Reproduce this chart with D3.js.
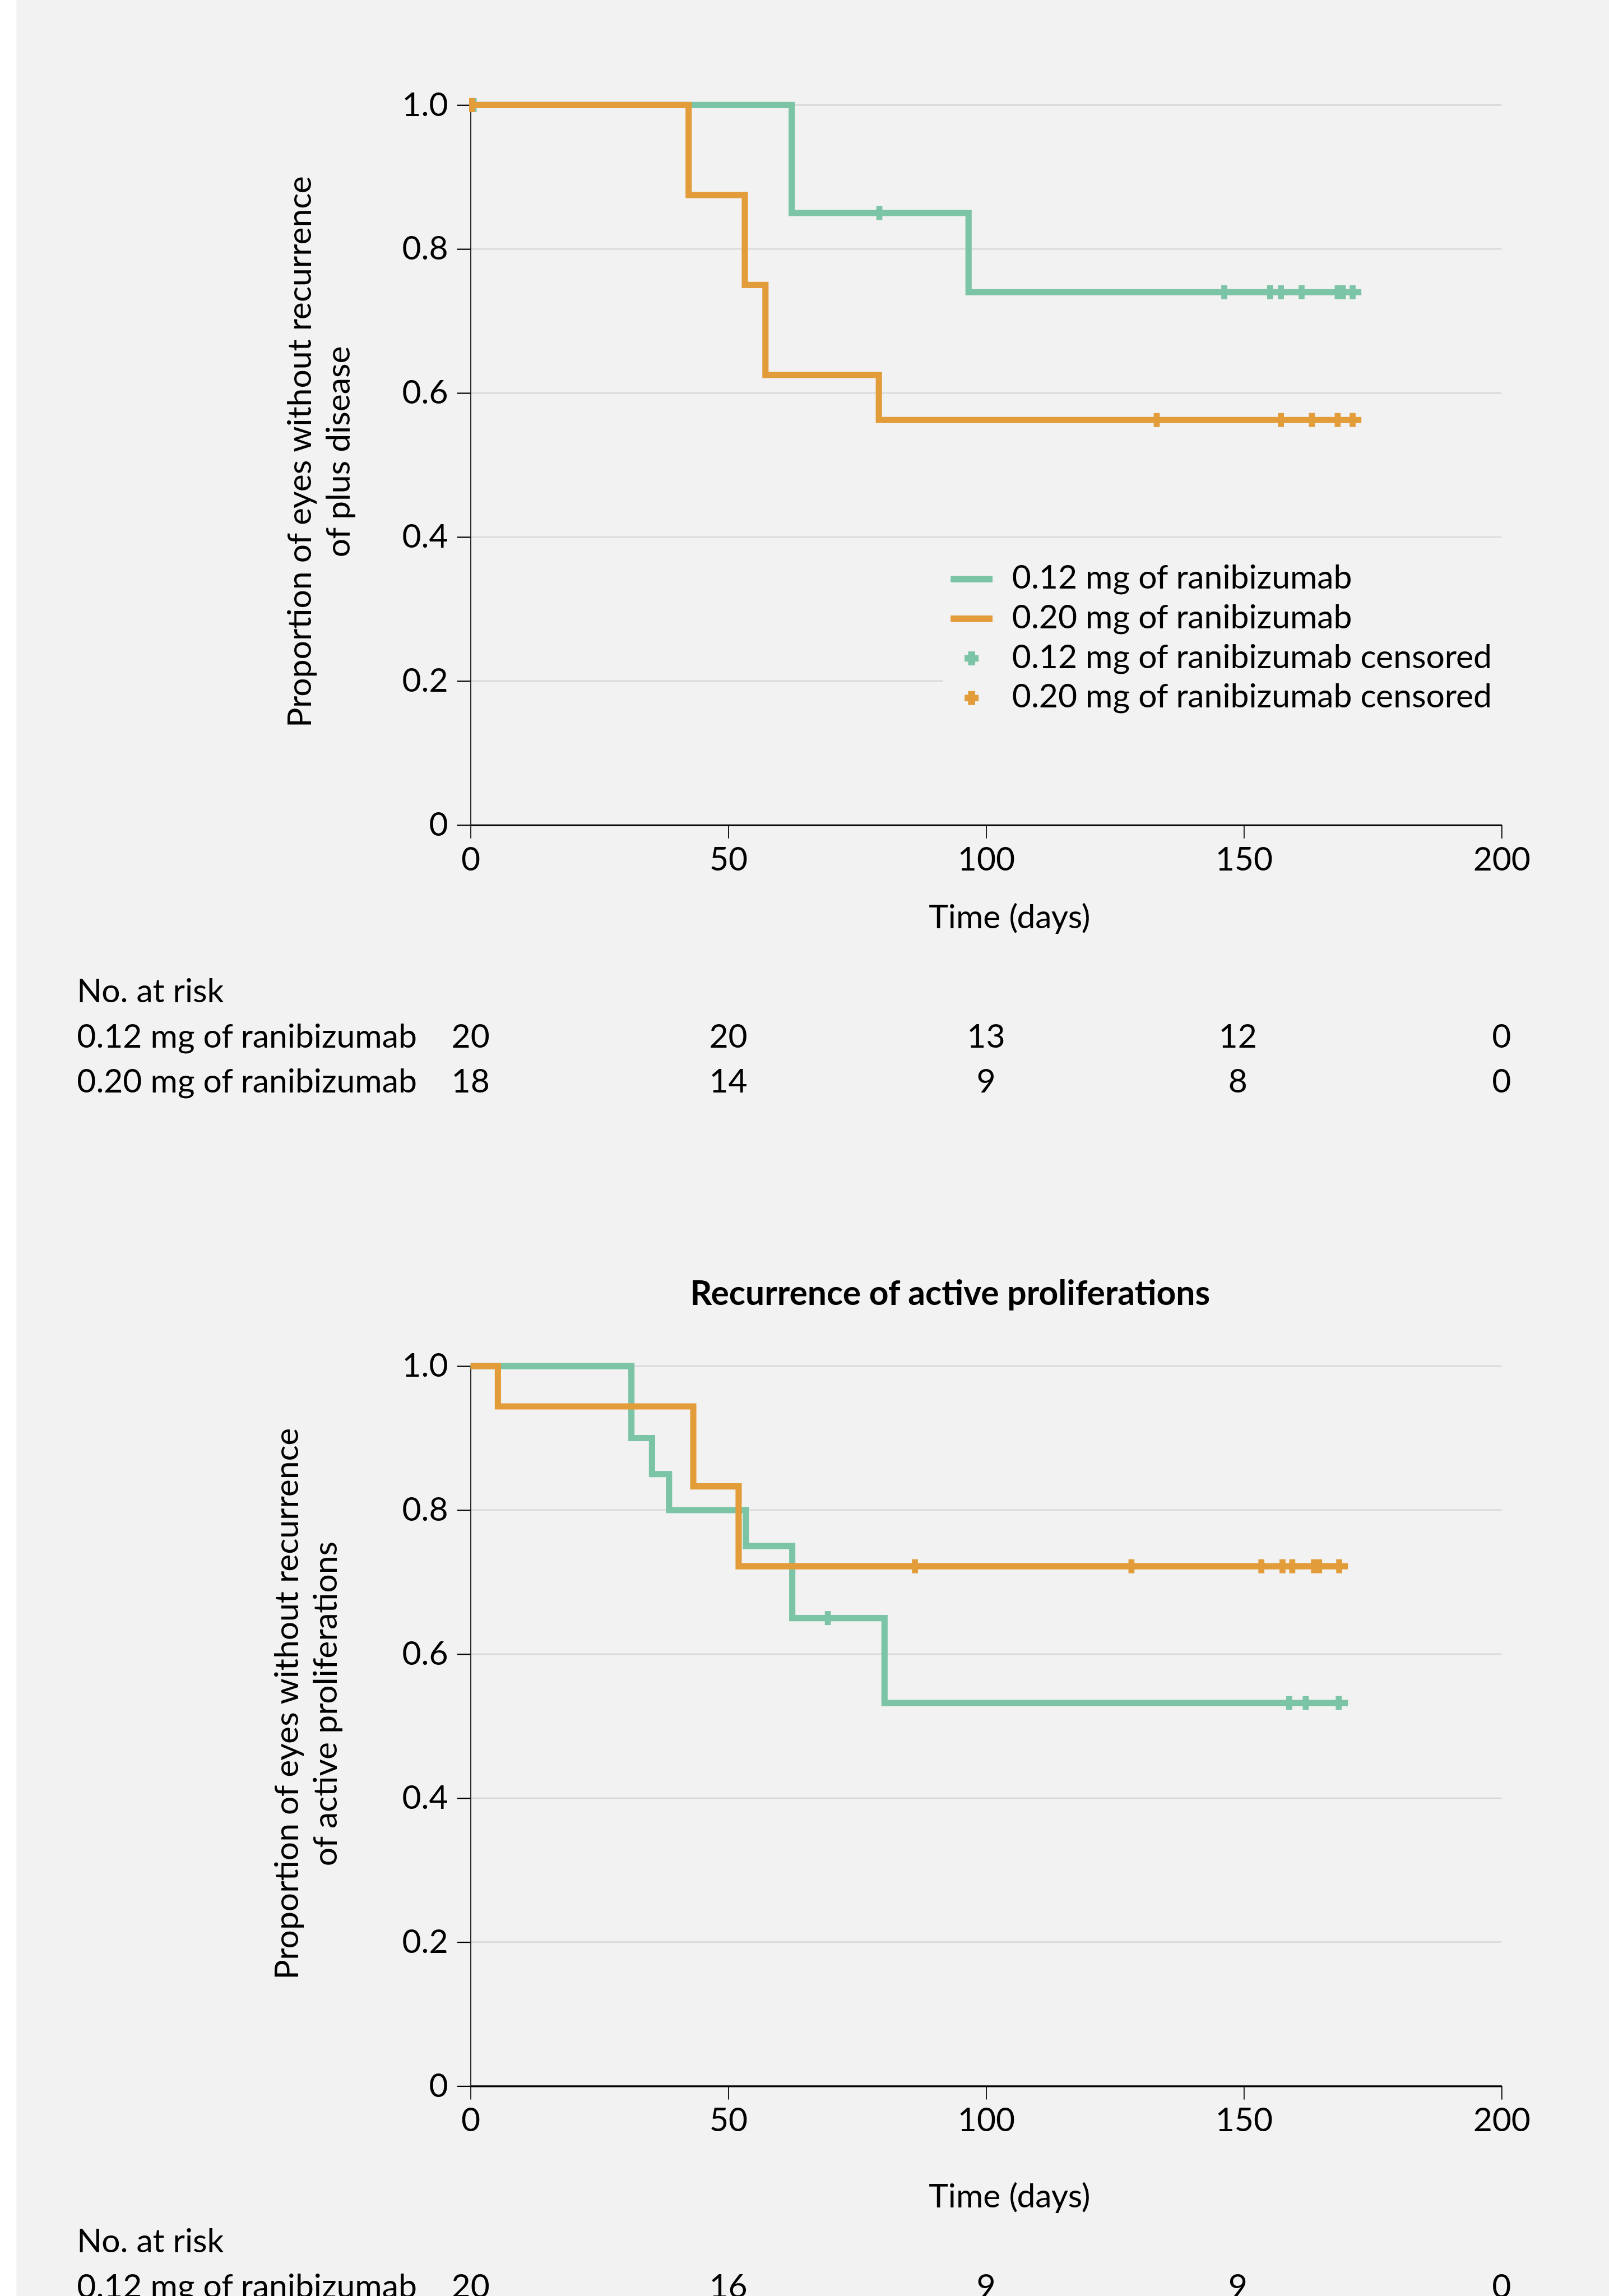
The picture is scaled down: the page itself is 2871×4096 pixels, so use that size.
<!DOCTYPE html>
<html>
<head>
<meta charset="utf-8">
<script src="https://cdn.jsdelivr.net/npm/d3@7.9.0/dist/d3.min.js"></script>
<style>
  html, body { margin: 0; padding: 0; background: #fff; overflow: hidden; }
  svg { display: block; }
  text { font-family: Lato, "Open Sans", sans-serif; fill: #000; }
</style>
</head>
<body>
<svg id="chart"></svg>
<script>
// ---- data ----
const seriesNames = ['0.12 mg of ranibizumab', '0.20 mg of ranibizumab'];
const xTicks = [0, 50, 100, 150, 200];
const yTicks = [0, 0.2, 0.4, 0.6, 0.8, 1.0];

// plus disease panel
const plusLowTimes = [0, 62.3, 96.6];
const plusLowSurv = [1, 0.85, 0.74];
const plusLowCensor = [0.6, 79.3, 146.2, 155.1, 157.2, 161.2, 168.2, 169.2, 171.1];
const plusHighTimes = [0, 42.3, 53.2, 57.2, 79.2];
const plusHighSurv = [1, 0.875, 0.75, 0.625, 0.5625];
const plusHighCensor = [0.3, 133.1, 157.2, 163.2, 168.2, 171.1];
const plusEnd = 172.8;
const plusRiskLow = [20, 20, 13, 12, 0];
const plusRiskHigh = [18, 14, 9, 8, 0];

// active proliferations panel
const activeLowTimes = [0, 31.2, 35.2, 38.5, 53.4, 62.4, 80.3];
const activeLowSurv = [1, 0.90, 0.85, 0.80, 0.75, 0.65, 0.532];
const activeLowCensor = [69.3, 158.8, 162.0, 168.4];
const activeHighTimes = [0, 5.3, 43.2, 52.0];
const activeHighSurv = [1, 0.944, 0.833, 0.722];
const activeHighCensor = [86.2, 128.2, 153.4, 157.5, 159.4, 163.6, 164.6, 168.5];
const activeEnd = 170.2;
const activeRiskLow = [20, 16, 9, 9, 0];

// ---- layout (reference pixel units, scaled by the viewBox) ----
const W = 3221, H = 4595;
const green = '#7cc4a6', orange = '#e39c3a';
const FS = 66;

const svg = d3.select('#chart')
  .attr('width', 2871).attr('height', 4096)
  .attr('viewBox', `0 0 ${W} ${H}`);

svg.append('rect').attr('x', 0).attr('y', 0).attr('width', W).attr('height', H).attr('fill', '#fff');
svg.append('rect').attr('x', 33).attr('y', 0).attr('width', W - 33).attr('height', H).attr('fill', '#f2f2f2');

const x = d3.scaleLinear().domain([0, 200]).range([942, 3006]);

function stepData(times, surv, end) {
  const pts = times.map((t, i) => [t, surv[i]]);
  pts.push([end, surv[surv.length - 1]]);
  return pts;
}

function survAt(times, surv, t) {
  let s = surv[0];
  times.forEach((tt, i) => { if (tt <= t) s = surv[i]; });
  return s;
}

function drawPanel(opt) {
  const g = svg.append('g');
  const y = d3.scaleLinear().domain([0, 1]).range([opt.y0, opt.y0 - 1441]);

  // grid
  g.append('g').selectAll('line')
    .data(yTicks.filter(d => d > 0))
    .join('line')
    .attr('x1', x(0)).attr('x2', x(200))
    .attr('y1', d => y(d)).attr('y2', d => y(d))
    .attr('stroke', '#d9d9d9').attr('stroke-width', 3);

  // legend box hides the grid beneath it
  if (opt.legend) {
    g.append('rect').attr('x', 1888).attr('y', 1095).attr('width', 1130).attr('height', 345)
      .attr('fill', '#f2f2f2');
  }

  // axes
  const yAxis = g.append('g').attr('transform', `translate(${x(0)},0)`)
    .call(d3.axisLeft(y).tickValues(yTicks).tickSize(27).tickSizeOuter(0).tickPadding(18)
      .tickFormat(d => d === 0 ? '0' : d3.format('.1f')(d)));
  yAxis.select('.domain').attr('stroke', '#000').attr('stroke-width', 2);
  yAxis.selectAll('.tick line').attr('stroke', '#000').attr('stroke-width', 2.5);
  yAxis.selectAll('text').attr('font-size', FS).attr('font-family', null);

  const xAxis = g.append('g').attr('transform', `translate(0,${y(0)})`)
    .call(d3.axisBottom(x).tickValues(xTicks).tickSize(27).tickSizeOuter(0).tickPadding(17));
  xAxis.select('.domain').attr('stroke', '#000').attr('stroke-width', 3.5);
  xAxis.selectAll('.tick line').attr('stroke', '#000').attr('stroke-width', 2);
  xAxis.selectAll('text').attr('font-size', FS).attr('font-family', null);

  // curves
  const line = d3.line().x(d => x(d[0])).y(d => y(d[1])).curve(d3.curveStepAfter);
  opt.series.forEach(s => {
    g.append('path')
      .datum(stepData(s.times, s.surv, opt.end))
      .attr('d', line)
      .attr('fill', 'none').attr('stroke', s.color).attr('stroke-width', 12.5);
    g.append('g').selectAll('rect')
      .data(s.censor)
      .join('rect')
      .attr('x', d => x(d) - 6).attr('width', 12)
      .attr('y', d => y(survAt(s.times, s.surv, d)) - 14).attr('height', 28)
      .attr('fill', s.color);
  });

  // axis titles
  g.append('text').attr('x', 2021).attr('y', opt.xLabelY)
    .attr('text-anchor', 'middle').attr('font-size', FS).text('Time (days)');
  const yl = g.append('text').attr('text-anchor', 'middle').attr('font-size', FS)
    .attr('transform', `translate(${opt.yLabelX},${opt.yLabelY}) rotate(-90)`);
  opt.yLabel.forEach((t, i) => {
    yl.append('tspan').attr('x', 0).attr('y', i * 77).text(t);
  });

  if (opt.title) {
    g.append('text').attr('x', 1902).attr('y', opt.titleY).attr('text-anchor', 'middle')
      .attr('font-size', 68).attr('font-weight', 'bold').text(opt.title);
  }

  // numbers at risk
  g.append('text').attr('x', 154).attr('y', opt.riskY).attr('font-size', FS).text('No. at risk');
  opt.risk.forEach((row, i) => {
    const ry = opt.riskY + 90.5 * (i + 1);
    g.append('text').attr('x', 154).attr('y', ry).attr('font-size', FS).text(seriesNames[i]);
    g.append('g').selectAll('text')
      .data(row)
      .join('text')
      .attr('x', (d, j) => x(xTicks[j]) - (j === 3 ? 12 : 0)).attr('y', ry)
      .attr('text-anchor', 'middle').attr('font-size', FS)
      .text(d => d);
  });

  return y;
}

drawPanel({
  y0: 1651,
  end: plusEnd,
  series: [
    { times: plusLowTimes, surv: plusLowSurv, censor: plusLowCensor, color: green },
    { times: plusHighTimes, surv: plusHighSurv, censor: plusHighCensor, color: orange }
  ],
  xLabelY: 1858,
  yLabelX: 623, yLabelY: 904,
  yLabel: ['Proportion of eyes without recurrence', 'of plus disease'],
  riskY: 2006,
  risk: [plusRiskLow, plusRiskHigh],
  legend: true
});

drawPanel({
  y0: 4175,
  end: activeEnd,
  series: [
    { times: activeLowTimes, surv: activeLowSurv, censor: activeLowCensor, color: green },
    { times: activeHighTimes, surv: activeHighSurv, censor: activeHighCensor, color: orange }
  ],
  xLabelY: 4418,
  yLabelX: 597, yLabelY: 3410,
  yLabel: ['Proportion of eyes without recurrence', 'of active proliferations'],
  title: 'Recurrence of active proliferations',
  titleY: 2612,
  riskY: 4508,
  risk: [activeRiskLow]
});

// legend
const legendLabels = [seriesNames[0], seriesNames[1], seriesNames[0] + ' censored', seriesNames[1] + ' censored'];
const legendColors = [green, orange, green, orange];
const legendKinds = ['line', 'line', 'censor', 'censor'];
const lg = svg.append('g');
legendLabels.forEach((t, i) => {
  const by = 1178 + i * 79.3;
  const cy = by - 19;
  if (legendKinds[i] === 'line') {
    lg.append('line').attr('x1', 1903).attr('x2', 1987).attr('y1', cy).attr('y2', cy)
      .attr('stroke', legendColors[i]).attr('stroke-width', 13);
  } else {
    lg.append('rect').attr('x', 1931).attr('y', cy - 6.5).attr('width', 28).attr('height', 13).attr('fill', legendColors[i]);
    lg.append('rect').attr('x', 1938).attr('y', cy - 14).attr('width', 14).attr('height', 28).attr('fill', legendColors[i]);
  }
  lg.append('text').attr('x', 2026).attr('y', by).attr('font-size', FS).text(t);
});
</script>
</body>
</html>
